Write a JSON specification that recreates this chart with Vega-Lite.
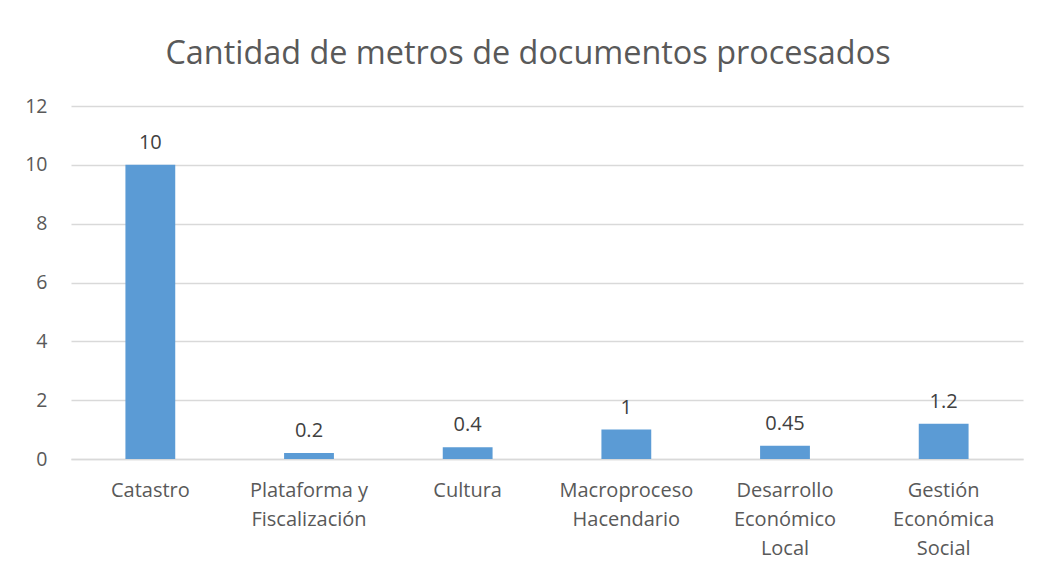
{
  "$schema": "https://vega.github.io/schema/vega-lite/v6.json",
  "autosize": "none",
  "width": 952,
  "height": 353,
  "padding": {"left": 71, "top": 106, "right": 17, "bottom": 117},
  "background": "white",
  "title": {
    "text": "Cantidad de metros de documentos procesados",
    "font": "Open Sans",
    "fontSize": 32.4,
    "fontWeight": "normal",
    "color": "#595959",
    "anchor": "middle",
    "baseline": "alphabetic",
    "offset": 40,
    "dx": -19,
    "dy": 40
  },
  "data": {
    "values": [
      {"categoria": "Catastro", "metros": 10, "etiqueta": "10"},
      {"categoria": "Plataforma y|Fiscalización", "metros": 0.2, "etiqueta": "0.2"},
      {"categoria": "Cultura", "metros": 0.4, "etiqueta": "0.4"},
      {"categoria": "Macroproceso|Hacendario", "metros": 1, "etiqueta": "1"},
      {"categoria": "Desarrollo|Económico|Local", "metros": 0.45, "etiqueta": "0.45"},
      {"categoria": "Gestión|Económica|Social", "metros": 1.2, "etiqueta": "1.2"}
    ]
  },
  "encoding": {
    "x": {
      "field": "categoria",
      "type": "nominal",
      "sort": null,
      "scale": {"paddingInner": 0.686, "paddingOuter": 0.343},
      "axis": {
        "title": null,
        "labelAngle": 0,
        "labelExpr": "split(datum.label, '|')",
        "labelFont": "Open Sans",
        "labelFontSize": 20,
        "labelColor": "#595959",
        "labelLineHeight": 29,
        "labelPadding": 21,
        "labelBaseline": "top",
        "ticks": false,
        "domainColor": "#d9d9d9",
        "domainWidth": 1.5,
        "grid": false
      }
    },
    "y": {
      "field": "metros",
      "type": "quantitative",
      "scale": {"domain": [0, 12]},
      "axis": {
        "title": null,
        "values": [0, 2, 4, 6, 8, 10, 12],
        "labelFont": "Open Sans",
        "labelFontSize": 19.5,
        "labelColor": "#595959",
        "labelPadding": 24,
        "ticks": false,
        "domain": false,
        "gridColor": "#d9d9d9",
        "gridWidth": 1.5
      }
    }
  },
  "layer": [
    {"mark": {"type": "bar", "color": "#5B9BD5"}},
    {
      "mark": {
        "type": "text",
        "baseline": "alphabetic",
        "dy": -16,
        "font": "Open Sans",
        "fontSize": 20,
        "color": "#404040"
      },
      "encoding": {"text": {"field": "etiqueta"}}
    }
  ],
  "config": {"view": {"stroke": null}}
}
